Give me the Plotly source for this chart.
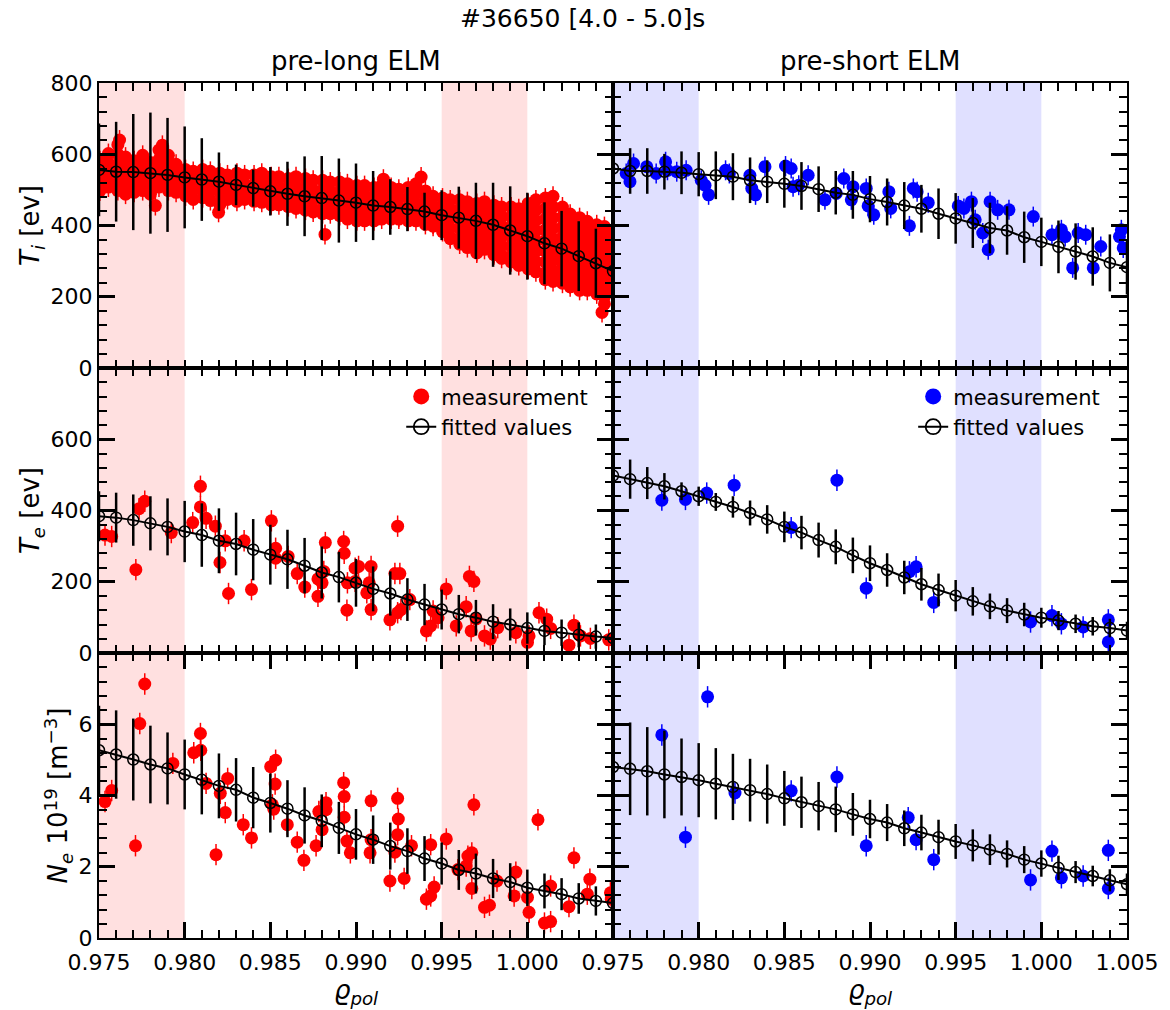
import plotly.graph_objects as go

FONT = "DejaVu Sans"
RED = "#ff0000"
BLUE = "#0000ff"

# ---------------- fitted-value grid ----------------
fit_x = [0.975, 0.976, 0.977, 0.978, 0.979, 0.980, 0.981, 0.982, 0.983, 0.984,
         0.985, 0.986, 0.987, 0.988, 0.989, 0.990, 0.991, 0.992, 0.993, 0.994,
         0.995, 0.996, 0.997, 0.998, 0.999, 1.000, 1.001, 1.002, 1.003, 1.004, 1.005]

# ---------------- pre-long ELM (left column) ----------------
ti_long_fit = [556, 551, 550, 547, 542, 535, 529, 523, 514, 505, 496, 489, 482, 477, 470, 464,
               456, 452, 446, 439, 429, 422, 413, 402, 386, 370, 350, 335, 314, 294, 272]
ti_long_fit_err = [130, 140, 163, 170, 160, 143, 116, 82, 57, 52, 68, 90, 112, 118, 118, 110,
                   97, 78, 62, 53, 70, 87, 107, 118, 124, 122, 115, 106, 98, 97, 112]
te_long_fit = [384, 380, 373, 364, 354, 341, 331, 315, 306, 290, 276, 263, 245, 226, 213, 197,
               180, 167, 150, 136, 122, 109, 99, 88, 80, 70, 62, 57, 51, 46, 42]
te_long_fit_err = [70, 70, 72, 76, 80, 86, 89, 91, 88, 86, 84, 83, 78, 73, 71, 67,
                   63, 62, 60, 58, 56, 54, 50, 49, 45, 44, 40, 37, 35, 34, 34]
ne_long_fit = [5.27, 5.15, 5.01, 4.87, 4.76, 4.59, 4.44, 4.27, 4.16, 3.94, 3.79, 3.63, 3.44, 3.29,
               3.09, 2.91, 2.76, 2.58, 2.44, 2.23, 2.09, 1.91, 1.81, 1.67, 1.57, 1.41, 1.32, 1.23,
               1.11, 1.04, 0.98]
ne_long_fit_err = [1.25, 1.24, 1.15, 1.09, 1.01, 0.98, 0.97, 0.91, 0.89, 0.86, 0.83, 0.80, 0.79,
                   0.74, 0.73, 0.71, 0.68, 0.66, 0.64, 0.63, 0.59, 0.56, 0.56, 0.55, 0.53, 0.51,
                   0.49, 0.45, 0.43, 0.41, 0.40]

# Ti measurement cloud (many overlapping points), grouped by radius column
ti_long_col_x = [0.97505, 0.97555, 0.97610, 0.97655, 0.97705, 0.97755, 0.97800, 0.97850, 0.97905,
                 0.97950, 0.98005, 0.98050, 0.98105, 0.98150, 0.98205, 0.98250, 0.98305, 0.98350,
                 0.98405, 0.98450, 0.98505, 0.98550, 0.98605, 0.98650, 0.98705, 0.98750, 0.98805,
                 0.98850, 0.98905, 0.98950, 0.99005, 0.99050, 0.99105, 0.99150, 0.99205, 0.99250,
                 0.99305, 0.99350, 0.99405, 0.99450, 0.99505, 0.99550, 0.99605, 0.99650, 0.99705,
                 0.99750, 0.99805, 0.99850, 0.99905, 0.99950, 1.00005, 1.00050, 1.00105, 1.00150,
                 1.00205, 1.00250, 1.00305, 1.00350, 1.00405, 1.00450, 1.00495]
ti_long_col_y = [
    [582, 556, 530, 505, 497], [602, 575, 548, 522, 508], [627, 600, 572, 545, 518, 498],
    [592, 565, 538, 512, 488], [582, 555, 528, 502, 493], [597, 570, 543, 516, 498],
    [577, 550, 522, 496, 488], [612, 585, 558, 531, 508], [597, 570, 543, 516, 498],
    [572, 546, 520, 493], [557, 530, 504, 483], [552, 526, 500, 473],
    [557, 531, 505, 478], [552, 525, 498, 470], [547, 520, 493, 466, 458],
    [542, 516, 490, 473], [547, 520, 494, 468], [542, 516, 490, 473],
    [542, 515, 489, 468], [547, 520, 492, 465], [537, 510, 484, 458],
    [537, 510, 484, 458], [532, 505, 479, 453], [537, 510, 483, 457, 448],
    [532, 505, 478, 452, 443], [527, 500, 473, 447, 438], [527, 500, 473, 447, 433],
    [522, 495, 468, 442, 433], [522, 495, 468, 441, 428], [517, 490, 463, 436, 418],
    [512, 485, 458, 432, 413], [512, 485, 458, 432, 413], [507, 480, 454, 428, 413],
    [512, 485, 458, 432, 418], [507, 480, 454, 428, 418], [502, 476, 450, 424, 418],
    [507, 480, 453, 427, 413], [517, 490, 462, 436, 413], [497, 470, 444, 418, 403],
    [482, 456, 430, 404, 398], [477, 451, 425, 399, 383], [472, 446, 420, 393, 367, 363],
    [472, 445, 418, 391, 364, 348], [467, 440, 413, 386, 360, 338],
    [462, 435, 408, 381, 354, 327, 323], [467, 440, 413, 386, 359, 333],
    [457, 430, 403, 376, 349, 322, 318], [452, 425, 398, 371, 344, 317, 308],
    [452, 425, 397, 369, 341, 313, 298], [447, 420, 392, 364, 336, 308, 288],
    [462, 434, 406, 378, 350, 322, 294, 278], [472, 443, 414, 385, 356, 327, 298, 270],
    [477, 448, 418, 388, 358, 328, 298, 268, 248], [482, 452, 422, 392, 362, 332, 302, 272, 243],
    [452, 424, 396, 368, 340, 312, 284, 256, 238], [432, 404, 376, 348, 320, 292, 264, 236, 228],
    [422, 394, 366, 338, 310, 282, 254, 226, 218], [412, 384, 356, 328, 300, 272, 244, 218],
    [402, 374, 346, 318, 290, 262, 234, 208], [397, 369, 341, 313, 285, 257, 229, 201, 180],
    [382, 354, 326, 298, 270, 242, 218]]
ti_long_out_x = [0.97829, 0.98198, 0.98819, 1.00436, 0.99380, 0.99160, 0.97620, 0.97870]
ti_long_out_y = [456, 437, 375, 156, 536, 530, 640, 625]

te_long_x = [0.97535, 0.97574, 0.97715, 0.97734, 0.97767, 0.97922, 0.98092, 0.98092, 0.98047,
             0.98125, 0.98179, 0.98206, 0.98237, 0.98256, 0.98347, 0.98390, 0.98506, 0.98531,
             0.98531, 0.98604, 0.98657, 0.98701, 0.98778, 0.98778, 0.98812, 0.98821, 0.98802,
             0.98928, 0.98931, 0.98947, 0.98950,
             0.98995, 0.98995, 0.99015, 0.99088, 0.99077, 0.99063, 0.99088, 0.99243, 0.99227,
             0.99256, 0.99198, 0.99243, 0.99262, 0.99314, 0.99411, 0.99436, 0.99450, 0.99479,
             0.99527, 0.99585, 0.99643, 0.99662, 0.99688, 0.99672, 0.99701, 0.99750, 0.99784,
             0.99827, 0.99933, 1.00001, 1.00010, 1.00068, 1.00113, 1.00136, 1.00243, 1.00272,
             1.00310, 1.00368, 1.00475]
te_long_y = [331, 327, 234, 405, 426, 338, 468, 410, 366, 378, 356, 254, 315, 167, 315, 178,
             371, 294, 266, 271, 223, 185, 159, 208, 229, 310, 197, 313, 280, 120, 197,
             238, 201, 243, 243, 197, 169, 122, 356, 223, 223, 93, 113, 122, 150, 62, 76, 118,
             99, 180, 76, 130, 215, 201, 62, 96, 48, 39, 71, 57, 30, 48, 113, 95, 69, 22, 78,
             48, 41, 37]

ne_long_x = [0.97535, 0.97574, 0.97713, 0.97738, 0.97767, 0.97931, 0.98053, 0.98092, 0.98094,
             0.98125, 0.98183, 0.98208, 0.98237, 0.98251, 0.98342, 0.98390, 0.98502, 0.98531,
             0.98528, 0.98512, 0.98520, 0.98599, 0.98657, 0.98696, 0.98767, 0.98783, 0.98802,
             0.98825, 0.98825, 0.98928, 0.98931, 0.98931, 0.98947, 0.98967,
             0.99088, 0.99088, 0.99082, 0.99198, 0.99243, 0.99247, 0.99243, 0.99227, 0.99281,
             0.99324, 0.99411, 0.99436, 0.99456, 0.99436, 0.99527, 0.99595, 0.99653, 0.99676,
             0.99688, 0.99676, 0.99643, 0.99750, 0.99779, 0.99823, 0.99933, 0.99923, 1.00001,
             1.00010, 1.00062, 1.00100, 1.00136, 1.00136, 1.00243, 1.00272, 1.00365, 1.00350,
             1.00485, 1.00490]
ne_long_y = [3.83, 4.14, 2.59, 6.02, 7.13, 4.90, 5.20, 5.74, 5.27, 4.34, 2.34, 4.06, 3.52, 4.48,
             3.18, 2.81, 4.81, 4.99, 4.32, 3.74, 3.62, 3.18, 2.69, 2.18, 2.59, 3.55, 3.04, 3.80,
             3.60, 4.36, 3.97, 3.39, 2.72, 2.39,
             3.85, 2.76, 2.39, 1.60, 3.92, 3.34, 2.90, 2.41, 1.67, 2.59, 1.09, 1.18, 1.43, 2.62,
             2.78, 1.92, 2.30, 2.39, 3.74, 1.39, 2.02, 0.86, 0.92, 1.60, 1.85, 1.18, 1.14, 0.72,
             3.32, 0.42, 0.46, 1.46, 0.88, 2.25, 1.65, 1.23, 1.27, 1.09]

# ---------------- pre-short ELM (right column) ----------------
ti_short_fit = [560, 553, 553, 551, 548, 544, 541, 537, 527, 523, 517, 511, 502, 492, 486, 474,
                466, 456, 447, 433, 420, 407, 393, 386, 367, 354, 340, 327, 313, 295, 283]
ti_short_fit_err = [64, 64, 64, 50, 60, 62, 67, 66, 64, 60, 67, 67, 64, 61, 67, 65,
                    66, 66, 67, 71, 71, 70, 71, 68, 72, 68, 74, 79, 82, 80, 77]
te_short_fit = [498, 488, 477, 468, 454, 440, 424, 410, 393, 375, 354, 338, 317, 298, 274, 252,
                233, 212, 193, 177, 161, 145, 131, 119, 108, 99, 91, 82, 75, 70, 63]
te_short_fit_err = [55, 55, 45, 37, 25, 27, 25, 30, 35, 40, 43, 47, 49, 49, 50, 50,
                    47, 47, 46, 46, 44, 40, 36, 35, 33, 28, 27, 26, 26, 26, 25]
ne_short_fit = [4.80, 4.75, 4.68, 4.59, 4.52, 4.43, 4.33, 4.24, 4.15, 4.04, 3.92, 3.81, 3.70,
                3.61, 3.47, 3.34, 3.24, 3.08, 2.96, 2.83, 2.71, 2.60, 2.48, 2.36, 2.20, 2.09,
                1.97, 1.85, 1.74, 1.62, 1.51]
ne_short_fit_err = [1.30, 1.30, 1.24, 1.23, 1.08, 1.04, 1.00, 0.93, 0.88, 0.83, 0.77, 0.72, 0.68,
                    0.64, 0.60, 0.54, 0.52, 0.50, 0.50, 0.49, 0.49, 0.45, 0.43, 0.38, 0.38, 0.37,
                    0.34, 0.31, 0.29, 0.31, 0.30]

ti_short_x = [0.97577, 0.97599, 0.97620, 0.97697, 0.97752, 0.97807, 0.97818, 0.97872, 0.97927,
              0.98015, 0.98037, 0.98058, 0.98157, 0.98179, 0.98299, 0.98310, 0.98332, 0.98387,
              0.98507, 0.98540, 0.98551, 0.98584, 0.98639, 0.98737, 0.98803, 0.98847, 0.98901,
              0.98891, 0.98978, 0.98989, 0.99022, 0.99110, 0.99121, 0.99230, 0.99253, 0.99275,
              0.99340, 0.99515, 0.99548, 0.99592, 0.99614, 0.99658, 0.99690, 0.99701, 0.99745,
              0.99811, 0.99953, 1.00062, 1.00117, 1.00139, 1.00183, 1.00215, 1.00259, 1.00303,
              1.00347, 1.00456, 1.00467, 1.00478]
ti_short_y = [546, 523, 574, 565, 546, 579, 555, 551, 555, 527, 513, 486, 555, 546, 541, 504,
              486, 565, 567, 560, 509, 513, 541, 472, 490, 532, 509, 472, 504, 455, 430, 495,
              448, 399, 504, 495, 464, 455, 448, 467, 416, 379, 332, 467, 444, 444, 425, 374,
              388, 369, 281, 379, 374, 281, 341, 369, 388, 337]

te_short_x = [0.97785, 0.97923, 0.98047, 0.98207, 0.98540, 0.98807, 0.98978, 0.99230, 0.99269,
              0.99372, 0.99937, 1.00062, 1.00117, 1.00244, 1.00391, 1.00391]
te_short_y = [429, 431, 449, 471, 352, 485, 182, 228, 242, 142, 87, 105, 82, 73, 93, 31]

ne_short_x = [0.97785, 0.97923, 0.98052, 0.98212, 0.98540, 0.98807, 0.98978, 0.99223, 0.99269,
              0.99372, 0.99937, 1.00062, 1.00117, 1.00244, 1.00391, 1.00391]
ne_short_y = [5.70, 2.83, 6.77, 4.07, 4.13, 4.52, 2.59, 3.38, 2.76, 2.20, 1.63, 2.44, 1.69,
              1.74, 2.46, 1.39]

x_tick_vals = [0.975, 0.980, 0.985, 0.990, 0.995, 1.000, 1.005]
x_tick_text = ["0.975", "0.980", "0.985", "0.990", "0.995", "1.000", "1.005"]
shade_spans = [(0.975, 0.980), (0.995, 1.000)]

# expand Ti cloud columns
ti_long_x, ti_long_y = [], []
for cx, ys in zip(ti_long_col_x, ti_long_col_y):
    for v in ys:
        ti_long_x.append(cx)
        ti_long_y.append(v)
ti_long_x += ti_long_out_x
ti_long_y += ti_long_out_y

# ---------------- build figure ----------------
fig = go.Figure()

panels = [
    # (row, col, meas_x, meas_y, meas_err, fit_y, fit_err, color)
    (1, 1, ti_long_x, ti_long_y, 28, ti_long_fit, ti_long_fit_err, RED),
    (2, 1, te_long_x, te_long_y, 30, te_long_fit, te_long_fit_err, RED),
    (3, 1, ne_long_x, ne_long_y, 0.3, ne_long_fit, ne_long_fit_err, RED),
    (1, 2, ti_short_x, ti_short_y, 28, ti_short_fit, ti_short_fit_err, BLUE),
    (2, 2, te_short_x, te_short_y, 30, te_short_fit, te_short_fit_err, BLUE),
    (3, 2, ne_short_x, ne_short_y, 0.3, ne_short_fit, ne_short_fit_err, BLUE),
]

row_domains = {1: [2 / 3, 1.0], 2: [1 / 3, 2 / 3], 3: [0.0, 1 / 3]}
col_domains = {1: [0.0, 0.5], 2: [0.5, 1.0]}

row_y = {
    1: dict(range=[0, 800], tickvals=[0, 200, 400, 600, 800],
            ticktext=["0", "200", "400", "600", "800"], minor_dtick=40,
            title="<i>T<sub>i</sub></i> [ev]"),
    2: dict(range=[0, 800], tickvals=[0, 200, 400, 600, 800],
            ticktext=["0", "200", "400", "600", ""], minor_dtick=40,
            title="<i>T<sub>e</sub></i> [ev]"),
    3: dict(range=[0, 8], tickvals=[0, 2, 4, 6, 8],
            ticktext=["0", "2", "4", "6", ""], minor_dtick=0.4,
            title="<i>N<sub>e</sub></i> 10<sup>19</sup> [m<sup>\u22123</sup>]"),
}

shapes = []
layout_axes = {}

for (r, c, mx, my, merr, fy, ferr, color) in panels:
    idx = (r - 1) * 2 + c
    xname = "x" if idx == 1 else f"x{idx}"
    yname = "y" if idx == 1 else f"y{idx}"
    legend_name = "legend" if c == 1 else "legend2"

    fig.add_trace(go.Scatter(
        x=mx, y=my, mode="markers", xaxis=xname, yaxis=yname,
        marker=dict(color=color, size=13, line=dict(width=0)),
        error_y=dict(type="constant", value=merr, color=color, thickness=1.5, width=0),
        name="measurement", showlegend=False, cliponaxis=True,
    ))
    fig.add_trace(go.Scatter(
        x=fit_x, y=fy, mode="lines+markers", xaxis=xname, yaxis=yname,
        line=dict(color="black", width=2),
        marker=dict(symbol="circle-open", size=11, color="black", line=dict(width=1.5)),
        error_y=dict(type="data", array=ferr, color="black", thickness=2.5, width=0),
        name="fitted values", showlegend=False, cliponaxis=True,
    ))

    if r == 2:
        # legend entries (drawn larger, as in the reference legend)
        fig.add_trace(go.Scatter(
            x=[None], y=[None], mode="markers", xaxis=xname, yaxis=yname,
            marker=dict(color=color, size=18), name="measurement",
            showlegend=True, legend=legend_name))
        fig.add_trace(go.Scatter(
            x=[None], y=[None], mode="lines+markers", xaxis=xname, yaxis=yname,
            line=dict(color="black", width=2),
            marker=dict(symbol="circle-open", size=15, color="black", line=dict(width=1.8)),
            name="fitted values", showlegend=True, legend=legend_name))

    fill = "rgba(255,0,0,0.12)" if c == 1 else "rgba(0,0,255,0.12)"
    for (a, b) in shade_spans:
        shapes.append(dict(type="rect", xref=xname, yref=f"{yname} domain",
                           x0=a, x1=b, y0=0, y1=1, fillcolor=fill,
                           line=dict(width=0), layer="below"))

    if r == 3:
        ttext = list(x_tick_text)
        if c == 1:
            ttext[-1] = ""
    else:
        ttext = [""] * len(x_tick_vals)

    xa = dict(
        domain=col_domains[c], anchor=yname, range=[0.975, 1.005],
        tickmode="array", tickvals=x_tick_vals, ticktext=ttext,
        showticklabels=(r == 3),
        ticks="inside", ticklen=16, tickwidth=2.5, tickcolor="black",
        minor=dict(ticks="inside", ticklen=8, tickwidth=1.5, tickcolor="black",
                   tick0=0.975, dtick=0.001, showgrid=False),
        mirror="ticks", showline=True, linecolor="black", linewidth=2,
        showgrid=False, zeroline=False,
        tickfont=dict(family=FONT, size=22, color="black"),
    )
    if r == 3:
        xa["ticklabelstandoff"] = 4
        xa["title"] = dict(text="<i>\u03f1<sub>pol</sub></i>",
                           font=dict(family=FONT, size=26, color="black"), standoff=4)
    ry = row_y[r]
    ya = dict(
        domain=row_domains[r], anchor=xname, range=ry["range"],
        tickmode="array", tickvals=ry["tickvals"], ticktext=ry["ticktext"],
        showticklabels=(c == 1),
        ticks="inside", ticklen=16, tickwidth=2.5, tickcolor="black",
        minor=dict(ticks="inside", ticklen=8, tickwidth=1.5, tickcolor="black",
                   tick0=0, dtick=ry["minor_dtick"], showgrid=False),
        mirror="ticks", showline=True, linecolor="black", linewidth=2,
        showgrid=False, zeroline=False,
        tickfont=dict(family=FONT, size=22, color="black"),
    )
    if c == 1:
        ya["title"] = dict(text=ry["title"],
                           font=dict(family=FONT, size=26, color="black"), standoff=3)
    layout_axes["xaxis" if idx == 1 else f"xaxis{idx}"] = xa
    layout_axes["yaxis" if idx == 1 else f"yaxis{idx}"] = ya

annotations = [
    dict(text="#36650 [4.0 - 5.0]s", x=0.470, y=1.075, xref="paper", yref="paper",
         showarrow=False, xanchor="center", yanchor="middle",
         font=dict(family=FONT, size=25, color="black")),
    dict(text="pre-long ELM", x=0.25, y=1.026, xref="paper", yref="paper",
         showarrow=False, xanchor="center", yanchor="middle",
         font=dict(family=FONT, size=26, color="black")),
    dict(text="pre-short ELM", x=0.75, y=1.026, xref="paper", yref="paper",
         showarrow=False, xanchor="center", yanchor="middle",
         font=dict(family=FONT, size=26, color="black")),
]

legend_style = dict(bgcolor="rgba(0,0,0,0)", borderwidth=0,
                    font=dict(family=FONT, size=21, color="black"),
                    xanchor="left", yanchor="top", itemsizing="trace",
                    tracegroupgap=0)

fig.update_layout(
    width=1170, height=1010,
    margin=dict(l=99, r=37, t=83, b=64),
    paper_bgcolor="white", plot_bgcolor="white",
    font=dict(family=FONT, size=20, color="black"),
    shapes=shapes, annotations=annotations,
    legend=dict(x=0.294, y=0.657, **legend_style),
    legend2=dict(x=0.792, y=0.657, **legend_style),
    **layout_axes,
)

fig.write_html("out.html")
